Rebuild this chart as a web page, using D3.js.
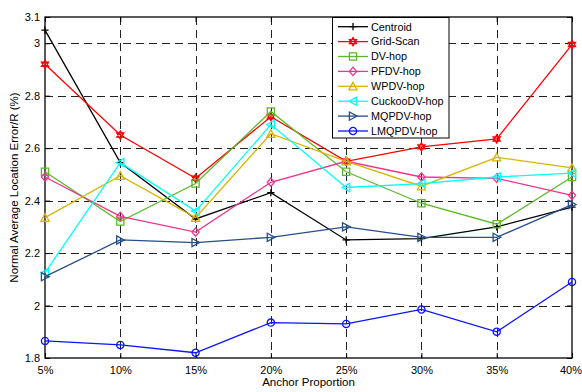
<!DOCTYPE html>
<html><head><meta charset="utf-8">
<script src="https://cdn.jsdelivr.net/npm/d3@7"></script>
<style>body{margin:0;background:#fff}svg{display:block}text{font-family:"Liberation Sans",Arial,sans-serif}</style>
</head><body>
<script>
const categories = ["5%","10%","15%","20%","25%","30%","35%","40%"];
const yTicks = [1.8,2.0,2.2,2.4,2.6,2.8,3.0,3.1];
const yTickLabels = ["1.8","2","2.2","2.4","2.6","2.8","3","3.1"];
const seriesNames = ["Centroid","Grid-Scan","DV-hop","PFDV-hop","WPDV-hop","CuckooDV-hop","MQPDV-hop","LMQPDV-hop"];
const centroid = [3.05,2.545,2.33,2.43,2.25,2.255,2.30,2.375];
const gridScan = [2.92,2.65,2.485,2.72,2.55,2.605,2.635,2.995];
const dvHop    = [2.51,2.32,2.465,2.74,2.51,2.39,2.31,2.49];
const pfdvHop  = [2.49,2.34,2.28,2.47,2.55,2.49,2.485,2.42];
const wpdvHop  = [2.335,2.495,2.335,2.655,2.55,2.455,2.565,2.525];
const cuckooDvHop = [2.125,2.545,2.36,2.69,2.45,2.465,2.49,2.505];
const mqpdvHop = [2.11,2.25,2.24,2.26,2.30,2.26,2.26,2.385];
const lmqpdvHop = [1.865,1.85,1.82,1.935,1.93,1.985,1.90,2.09];
const colors = ["#000000","#ff0000","#5cb82a","#f0348c","#dab400","#00ffff","#264f8c","#0a14ff"];
const markers = ["plus","hexagram","square","diamond","triUp","triLeft","triRight","circle"];
const allValues = [centroid,gridScan,dvHop,pfdvHop,wpdvHop,cuckooDvHop,mqpdvHop,lmqpdvHop];

const W=582,H=392, L=45, R=572, T=17, B=358;
const svg=d3.select("body").append("svg").attr("width",W).attr("height",H);
const x=d3.scalePoint().domain(categories).range([L,R]);
const y=d3.scaleLinear().domain([1.8,3.1]).range([B,T]);

// grid
const g=svg.append("g");
g.selectAll(".hg").data(yTicks.filter(v=>v>1.8&&v<3.1)).enter().append("line")
 .attr("x1",L).attr("x2",R).attr("y1",d=>Math.round(y(d))+0.5).attr("y2",d=>Math.round(y(d))+0.5)
 .attr("stroke","#222").attr("stroke-width",1).attr("stroke-dasharray","8,5");
g.selectAll(".vg").data(categories.slice(1,-1)).enter().append("line")
 .attr("y1",T).attr("y2",B).attr("x1",d=>Math.round(x(d))+0.5).attr("x2",d=>Math.round(x(d))+0.5)
 .attr("stroke","#222").attr("stroke-width",1).attr("stroke-dasharray","8,5");

// axes
const xAxis=d3.axisBottom(x).tickSizeInner(-5).tickSizeOuter(0).tickPadding(8);
const xa=svg.append("g").attr("transform",`translate(0,${B})`).call(xAxis);
xa.select(".domain").remove();
xa.selectAll("text").attr("font-size","11px").attr("fill","#000");
xa.selectAll("text").filter(d=>d==="40%").attr("dx","-1.5");
const xt=svg.append("g").attr("transform",`translate(0,${T})`).call(d3.axisTop(x).tickSizeInner(-5).tickSizeOuter(0).tickFormat(""));
xt.select(".domain").remove();
const yAxis=d3.axisLeft(y).tickValues(yTicks).tickFormat((d,i)=>yTickLabels[i]).tickSizeInner(-5).tickSizeOuter(0).tickPadding(5);
const ya=svg.append("g").attr("transform",`translate(${L},0)`).call(yAxis);
ya.select(".domain").remove();
ya.selectAll("text").attr("font-size","11px").attr("fill","#000");
const yr=svg.append("g").attr("transform",`translate(${R},0)`).call(d3.axisRight(y).tickValues(yTicks).tickSizeInner(-5).tickSizeOuter(0).tickFormat(""));
yr.select(".domain").remove();
svg.append("rect").attr("x",L).attr("y",T).attr("width",R-L).attr("height",B-T).attr("fill","none").attr("stroke","#000").attr("stroke-width",1.3);

svg.append("text").attr("x",(L+R)/2).attr("y",386).attr("text-anchor","middle").attr("font-size","11.5px").text("Anchor Proportion");
svg.append("text").attr("transform",`translate(18,${(T+B)/2}) rotate(-90)`).attr("text-anchor","middle").attr("font-size","11.5px").text("Normal Average Location Error/R (%)");

function markerPath(type){
  const s=3.6;
  switch(type){
    case "plus": return `M${-s},0L${s},0M0,${-s}L0,${s}`;
    case "square": return `M${-s},${-s}L${s},${-s}L${s},${s}L${-s},${s}Z`;
    case "diamond": return `M0,${-s-0.6}L${s},0L0,${s+0.6}L${-s},0Z`;
    case "triUp": return `M0,${-s-0.5}L${s+0.5},${s}L${-s-0.5},${s}Z`;
    case "triLeft": return `M${-s-0.5},0L${s},${-s-0.5}L${s},${s+0.5}Z`;
    case "triRight": return `M${s+0.5},0L${-s},${-s-0.5}L${-s},${s+0.5}Z`;
    case "circle": return d3.symbol(d3.symbolCircle, Math.PI*s*s)();
    case "hexagram": {
      const r=s+0.5, pts1=[], pts2=[];
      for(let k=0;k<3;k++){const a=-Math.PI/2+k*2*Math.PI/3; pts1.push([r*Math.cos(a),r*Math.sin(a)]);}
      for(let k=0;k<3;k++){const a=Math.PI/2+k*2*Math.PI/3; pts2.push([r*Math.cos(a),r*Math.sin(a)]);}
      return "M"+pts1.join("L")+"Z M"+pts2.join("L")+"Z";
    }
  }
}

const line=d3.line().x((d,i)=>x(categories[i])).y(d=>y(d));
allValues.forEach((vals,si)=>{
  const sg=svg.append("g");
  sg.append("path").attr("d",line(vals)).attr("fill","none").attr("stroke",colors[si]).attr("stroke-width",1.3);
  sg.selectAll("path.m").data(vals).enter().append("path").attr("class","m")
    .attr("transform",(d,i)=>`translate(${x(categories[i])},${y(d)})`)
    .attr("d",markerPath(markers[si])).attr("fill","none").attr("stroke",colors[si]).attr("stroke-width",1.3);
});

// legend
const lg=svg.append("g");
lg.append("rect").attr("x",332.5).attr("y",17.5).attr("width",116.5).attr("height",120.5).attr("fill","#fff").attr("stroke","#000").attr("stroke-width",1);
seriesNames.forEach((n,i)=>{
  const yy=26.7+i*14.9;
  lg.append("line").attr("x1",338).attr("x2",368).attr("y1",yy).attr("y2",yy).attr("stroke",colors[i]).attr("stroke-width",1.3);
  lg.append("path").attr("transform",`translate(353,${yy})`).attr("d",markerPath(markers[i])).attr("fill","none").attr("stroke",colors[i]).attr("stroke-width",1.3);
  lg.append("text").attr("x",371).attr("y",yy+3.8).attr("font-size","10.8px").text(n);
});
</script>
</body></html>
